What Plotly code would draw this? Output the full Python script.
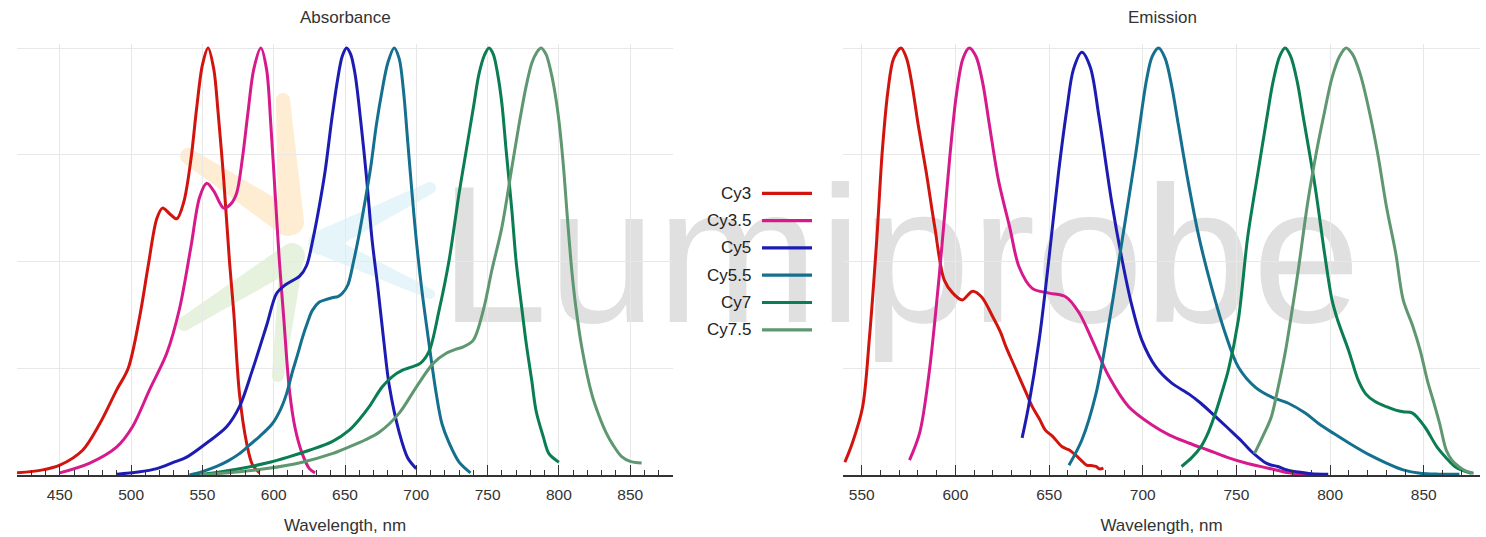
import numpy as np
import plotly.graph_objects as go

# ---------------- data ----------------
dyes = ["Cy3", "Cy3.5", "Cy5", "Cy5.5", "Cy7", "Cy7.5"]
colors = ["#d2140f", "#d61a8c", "#1c1cb2", "#14708e", "#0a7d52", "#5e9770"]

# Absorbance spectra (wavelength nm, normalised absorbance)
abs_cy3_nm = [420, 438, 450, 466, 478, 490, 498, 506, 512, 518, 522, 527, 532, 537, 542, 546, 550, 554, 558, 561, 565, 569, 572, 576, 581, 585, 590]
abs_cy3_v = [0.005, 0.012, 0.023, 0.058, 0.12, 0.2, 0.25, 0.37, 0.49, 0.60, 0.625, 0.612, 0.60, 0.64, 0.74, 0.86, 0.96, 1.0, 0.95, 0.85, 0.69, 0.5, 0.38, 0.19, 0.075, 0.025, 0.005]

abs_cy35_nm = [450, 471, 490, 501, 513, 525, 534, 542, 548, 553, 558, 565, 570, 574, 578, 582, 586, 591, 595, 598, 601, 604, 607, 611, 615, 620, 625, 629]
abs_cy35_v = [0.005, 0.028, 0.066, 0.113, 0.2, 0.285, 0.39, 0.535, 0.65, 0.683, 0.665, 0.625, 0.635, 0.66, 0.74, 0.85, 0.95, 1.0, 0.95, 0.82, 0.66, 0.5, 0.37, 0.2, 0.11, 0.05, 0.015, 0.005]

abs_cy5_nm = [490, 505, 518, 530, 539, 553, 567, 576, 585, 595, 602, 608, 613, 618, 623, 628, 632, 636, 641, 645, 648, 651, 654, 657, 661, 665, 669, 673, 677, 681, 688, 694, 700]
abs_cy5_v = [0.002, 0.007, 0.015, 0.03, 0.042, 0.075, 0.113, 0.16, 0.245, 0.35, 0.425, 0.445, 0.455, 0.465, 0.49, 0.56, 0.63, 0.71, 0.84, 0.93, 0.98, 1.0, 0.985, 0.94, 0.83, 0.7, 0.55, 0.44, 0.32, 0.21, 0.1, 0.04, 0.015]

abs_cy55_nm = [541, 550, 560, 568, 576, 583, 590, 599, 605, 609, 613, 617, 620, 624, 627, 632, 636, 641, 645, 648, 652, 656, 660, 664, 668, 672, 676, 680, 684.5, 688, 691, 694, 697, 700, 704, 708, 714, 718, 723, 730, 738]
abs_cy55_v = [0.0, 0.008, 0.02, 0.033, 0.05, 0.07, 0.09, 0.12, 0.155, 0.19, 0.24, 0.285, 0.32, 0.36, 0.385, 0.405, 0.41, 0.415, 0.418, 0.425, 0.445, 0.5, 0.565, 0.64, 0.72, 0.82, 0.9, 0.965, 1.0, 0.975, 0.9, 0.78, 0.66, 0.55, 0.43, 0.33, 0.19, 0.12, 0.075, 0.03, 0.005]

abs_cy7_nm = [546, 560, 575, 595, 610, 625, 641, 653, 660, 667, 676, 683, 690, 697, 703, 709, 716, 723, 730, 735, 740, 744, 748, 751, 754, 757, 760, 763, 767, 770, 774, 777, 781, 784, 789, 793, 800]
abs_cy7_v = [0.0, 0.006, 0.014, 0.028, 0.042, 0.058, 0.078, 0.105, 0.13, 0.16, 0.206, 0.23, 0.245, 0.253, 0.262, 0.29, 0.386, 0.503, 0.66, 0.76, 0.86, 0.94, 0.985, 1.0, 0.985, 0.94, 0.87, 0.76, 0.62, 0.5, 0.39, 0.31, 0.22, 0.15, 0.09, 0.05, 0.03]

abs_cy75_nm = [548, 570, 595, 620, 641, 653, 664, 674, 688, 700, 712, 721, 728, 733, 740, 747, 753, 760, 767, 772, 777, 781, 784.5, 787.5, 791, 794, 797, 800, 803, 806, 809, 812, 816, 823, 828, 833, 838, 844, 850, 858]
abs_cy75_v = [0.0, 0.006, 0.015, 0.03, 0.05, 0.066, 0.082, 0.1, 0.145, 0.206, 0.262, 0.285, 0.295, 0.3, 0.316, 0.386, 0.48, 0.58, 0.72, 0.82, 0.91, 0.965, 0.99, 1.0, 0.985, 0.95, 0.9, 0.83, 0.73, 0.6, 0.48, 0.39, 0.3, 0.19, 0.14, 0.1, 0.07, 0.043, 0.032, 0.028]

# Emission spectra (wavelength nm, normalised emission)
em_cy3_nm = [541, 545, 550.5, 554, 558, 561, 564, 567, 571, 574, 577, 580, 584.5, 589, 594, 598.6, 603.7, 609, 614, 620, 624, 627, 631, 634, 638, 641, 645, 648, 652, 657, 661, 664, 667, 670, 673, 675, 677, 679]
em_cy3_v = [0.03, 0.075, 0.16, 0.316, 0.55, 0.76, 0.9, 0.975, 1.0, 0.975, 0.91, 0.824, 0.707, 0.58, 0.457, 0.426, 0.41, 0.43, 0.417, 0.37, 0.335, 0.3, 0.26, 0.23, 0.19, 0.16, 0.13, 0.105, 0.09, 0.066, 0.058, 0.047, 0.035, 0.023, 0.022, 0.02, 0.014, 0.016]

em_cy35_nm = [575.5, 581, 586, 591.5, 597, 600.5, 604, 607.4, 611, 614.5, 618, 623, 629, 634, 641, 650, 659, 666, 673, 682, 692.5, 705, 714, 724.5, 735, 744.7, 755, 767, 778, 790]
em_cy35_v = [0.035, 0.1, 0.24, 0.473, 0.745, 0.89, 0.975, 1.0, 0.98, 0.92, 0.824, 0.69, 0.58, 0.487, 0.437, 0.426, 0.417, 0.38, 0.316, 0.23, 0.16, 0.117, 0.094, 0.075, 0.058, 0.042, 0.028, 0.016, 0.005, 0.0]

em_cy5_nm = [635.6, 639, 644.7, 650, 655, 659.6, 663, 667.5, 672, 676.6, 683.5, 689, 694, 699.5, 707, 715.5, 724.5, 731, 738, 744.7, 749, 753.7, 758, 762, 765, 768, 772, 777, 783, 790, 799]
em_cy5_v = [0.087, 0.16, 0.316, 0.51, 0.707, 0.86, 0.95, 0.99, 0.955, 0.84, 0.637, 0.503, 0.4, 0.316, 0.253, 0.215, 0.19, 0.168, 0.14, 0.113, 0.095, 0.075, 0.055, 0.04, 0.03, 0.024, 0.02, 0.012, 0.007, 0.003, 0.002]

em_cy55_nm = [660.6, 667.5, 675, 682, 689, 696, 702, 705, 708.5, 712, 715.5, 719, 724.5, 730, 736.7, 744, 751, 760, 768.6, 777.7, 786.7, 794, 802, 810, 821, 830, 839, 848, 858, 869]
em_cy55_v = [0.023, 0.082, 0.19, 0.356, 0.55, 0.745, 0.925, 0.98, 1.0, 0.975, 0.91, 0.82, 0.68, 0.557, 0.44, 0.332, 0.253, 0.206, 0.183, 0.168, 0.145, 0.12, 0.097, 0.075, 0.047, 0.028, 0.012, 0.004, 0.002, 0.002]

em_cy7_nm = [720.7, 726, 731, 735, 738.8, 742, 745.7, 751, 756, 761.7, 766, 769.5, 773, 776, 779, 782.5, 785.6, 792, 797, 801, 804, 810, 815, 819, 824, 830, 835, 839, 844, 850.5, 857, 862, 866.5, 871, 875.5]
em_cy7_v = [0.02, 0.04, 0.066, 0.1, 0.145, 0.19, 0.246, 0.363, 0.557, 0.714, 0.83, 0.92, 0.98, 1.0, 0.98, 0.92, 0.84, 0.675, 0.52, 0.41, 0.363, 0.29, 0.222, 0.19, 0.172, 0.16, 0.152, 0.148, 0.145, 0.113, 0.066, 0.04, 0.02, 0.01, 0.004]

em_cy75_nm = [759.6, 764, 768.6, 772, 776, 779.5, 783, 788, 792.6, 797, 801, 805, 808.5, 812, 816, 820, 825.5, 830, 835, 839, 844, 848, 852, 855, 858.5, 862, 865, 868.6, 872, 876.6]
em_cy75_v = [0.05, 0.09, 0.136, 0.2, 0.286, 0.38, 0.48, 0.637, 0.754, 0.85, 0.93, 0.98, 1.0, 0.985, 0.94, 0.87, 0.75, 0.63, 0.52, 0.41, 0.35, 0.293, 0.22, 0.175, 0.12, 0.058, 0.035, 0.02, 0.01, 0.004]

abs_nm = [abs_cy3_nm, abs_cy35_nm, abs_cy5_nm, abs_cy55_nm, abs_cy7_nm, abs_cy75_nm]
abs_v = [abs_cy3_v, abs_cy35_v, abs_cy5_v, abs_cy55_v, abs_cy7_v, abs_cy75_v]
em_nm = [em_cy3_nm, em_cy35_nm, em_cy5_nm, em_cy55_nm, em_cy7_nm, em_cy75_nm]
em_v = [em_cy3_v, em_cy35_v, em_cy5_v, em_cy55_v, em_cy7_v, em_cy75_v]

# ---------------- layout geometry ----------------
W, H = 1486, 537
ML, MR, MT, MB = 17, 6, 44, 62
PW, PH = W - ML - MR, H - MT - MB
Y_TOP = PH / 427.0  # value 1.0 sits just under the top of the plot area


def px2x(px):
    return (px - ML) / PW


def py2y(py):
    return (H - MB - py) / PH


FONT = "Liberation Sans, Arial, Helvetica, sans-serif"
TXT = "#333333"

fig = go.Figure()

for i, name in enumerate(dyes):
    fig.add_trace(go.Scatter(x=abs_nm[i], y=abs_v[i], mode="lines", name=name,
                             line=dict(color=colors[i], width=3, shape="spline", smoothing=0.9),
                             xaxis="x", yaxis="y", showlegend=False, hoverinfo="skip"))
for i, name in enumerate(dyes):
    fig.add_trace(go.Scatter(x=em_nm[i], y=em_v[i], mode="lines", name=name,
                             line=dict(color=colors[i], width=3, shape="spline", smoothing=0.9),
                             xaxis="x2", yaxis="y2", showlegend=False, hoverinfo="skip"))

xcommon = dict(dtick=50, tick0=0, ticks="inside", ticklen=10, tickwidth=1.2, tickcolor=TXT,
               showline=True, linecolor=TXT, linewidth=1.5, showgrid=True, gridcolor="#e8e8e8",
               gridwidth=1, zeroline=False, ticklabelstandoff=5,
               minor=dict(dtick=10, tick0=0, ticks="inside", ticklen=5, tickwidth=1.1, tickcolor=TXT, showgrid=False),
               tickfont=dict(family=FONT, size=15.5, color=TXT),
               title=dict(text="Wavelength, nm", font=dict(family=FONT, size=17, color=TXT), standoff=17))
ycommon = dict(range=[0, Y_TOP], dtick=0.25, tick0=0, showticklabels=False, ticks="",
               showgrid=True, gridcolor="#e8e8e8", gridwidth=1, zeroline=False, showline=False,
               domain=[0, 1])

fig.update_layout(
    width=W, height=H,
    margin=dict(l=ML, r=MR, t=MT, b=MB, pad=0),
    paper_bgcolor="white", plot_bgcolor="rgba(0,0,0,0)",
    xaxis=dict(domain=[0, px2x(673)], range=[420, 880], anchor="y", **xcommon),
    xaxis2=dict(domain=[px2x(843), 1], range=[540, 880], anchor="y2", **xcommon),
    yaxis=dict(anchor="x", **ycommon),
    yaxis2=dict(anchor="x2", **ycommon),
    showlegend=False,
    font=dict(family=FONT, color=TXT),
)

# subplot titles
annotations = [
    dict(text="Absorbance", x=px2x(345), y=py2y(17), xref="paper", yref="paper",
         showarrow=False, xanchor="center", yanchor="middle", font=dict(family=FONT, size=17, color=TXT)),
    dict(text="Emission", x=px2x(1162), y=py2y(17), xref="paper", yref="paper",
         showarrow=False, xanchor="center", yanchor="middle", font=dict(family=FONT, size=17, color=TXT)),
]

shapes = []

# legend (text on the left, line sample on the right)
leg_y = [193.3, 220.6, 247.9, 275.2, 302.5, 329.8]
for i, name in enumerate(dyes):
    annotations.append(dict(text=name, x=px2x(753), y=py2y(leg_y[i]), xref="paper", yref="paper",
                            showarrow=False, xanchor="right", yanchor="middle",
                            font=dict(family=FONT, size=17, color="#222222")))
    shapes.append(dict(type="line", xref="paper", yref="paper", x0=px2x(762), x1=px2x(812),
                       y0=py2y(leg_y[i]), y1=py2y(leg_y[i]), line=dict(color=colors[i], width=3.2)))


# faint logo petals behind the plot
def petal(p0, p1, w0, w1, color):
    p0 = np.array(p0, float)
    p1 = np.array(p1, float)
    d = p1 - p0
    L = np.hypot(*d)
    u = d / L
    n = np.array([-u[1], u[0]])
    pts = []
    for t in np.linspace(0, 1, 20):
        w = w0 + (w1 - w0) * t
        pts.append(p0 + d * t + n * w)
    for a in np.linspace(np.pi / 2, -np.pi / 2, 12):
        pts.append(p1 + u * np.cos(a) * w1 + n * np.sin(a) * w1)
    for t in np.linspace(1, 0, 20):
        w = w0 + (w1 - w0) * t
        pts.append(p0 + d * t - n * w)
    for a in np.linspace(-np.pi / 2, -3 * np.pi / 2, 12):
        pts.append(p0 + u * np.cos(a) * w0 + n * np.sin(a) * w0)
    path = "M " + " L ".join(f"{px2x(p[0]):.5f},{py2y(p[1]):.5f}" for p in pts) + " Z"
    return dict(type="path", xref="paper", yref="paper", path=path, fillcolor=color,
                line=dict(width=0), layer="below")


shapes += [
    petal((288, 222), (188, 156), 14, 8, "#feecd3"),
    petal((291, 222), (283, 100), 13, 7, "#feecd3"),
    petal((320, 243), (430, 188), 12, 6, "#e6f5f9"),
    petal((320, 243), (430, 294), 11, 5, "#e6f5f9"),
    petal((292, 256), (184, 324), 13, 7, "#e7f2de"),
    petal((292, 256), (278, 376), 12, 6, "#e7f2de"),
]

# faint brand watermark text behind the plot
WM_SIZE = 195
wm_center_y = 328 - 0.47 * WM_SIZE
shapes.append(dict(type="rect", xref="paper", yref="paper",
                   x0=px2x(700), x1=px2x(1100), y0=py2y(wm_center_y + 20), y1=py2y(wm_center_y - 20),
                   line=dict(width=0), fillcolor="rgba(0,0,0,0)", layer="below",
                   label=dict(text="Lumiprobe", textposition="middle center", padding=0,
                              font=dict(family="Liberation Sans, Arial", size=WM_SIZE, color="#e0e0e0"))))

fig.update_layout(annotations=annotations, shapes=shapes)

fig.write_html("out.html", config={"displayModeBar": False},
               post_script="document.body.style.margin='0';document.body.style.overflow='hidden';")
